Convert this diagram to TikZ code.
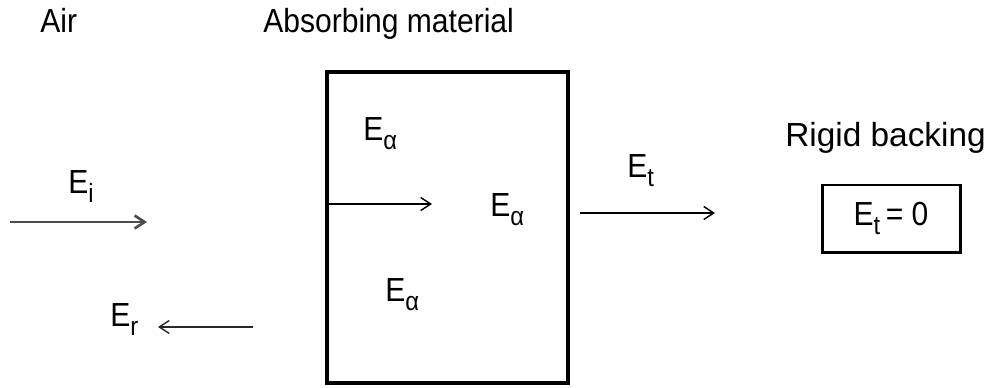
\documentclass[tikz,border=0pt]{standalone}
\usepackage{fontspec}
\setmainfont{Liberation Sans}[FakeStretch=0.9]
\newfontfamily\widefont{Liberation Sans}
\usetikzlibrary{arrows.meta}
% field symbol with a lowered index
\newcommand\fieldsym[1]{E\raisebox{-5.5pt}{\fontsize{15}{15}\selectfont #1}}

\begin{document}
\begin{tikzpicture}[x=0.2mm,y=-0.2mm,
    >={Straight Barb[length=2mm,width=2.6mm]},
    lbl/.style={inner sep=0pt,anchor=base west,font=\fontsize{19}{22}\selectfont},
    wave/.style={->,line width=0.8pt}]
  \useasboundingbox (0,0) rectangle (990,387);

  % headings
  \node[lbl] (air) at (40,32) {Air};
  \node[lbl] (absorb) at (263,32) {Absorbing material};
  \node[lbl,font=\widefont\fontsize{19}{22}\selectfont] (rigid) at (785,146) {Rigid backing};

  % slab of absorbing material
  \node[draw,line width=1.8pt,minimum width=48.2mm,minimum height=62.2mm,inner sep=0pt] (slab) at (447.5,227.5) {};
  \node[lbl] (ea1) at (363,140) {\fieldsym{α}};
  \node[lbl] (ea2) at (490,216) {\fieldsym{α}};
  \node[lbl] (ea3) at (385,301) {\fieldsym{α}};

  % backing
  \node[draw,line width=1.7pt,minimum width=27.6mm,minimum height=13.4mm,inner sep=0pt,
        font=\fontsize{19}{22}\selectfont] (back) at (891,218.5) {\fieldsym{t}\,= 0};

  % incident, reflected, transmitted
  \node[lbl] (ei) at (68,193) {\fieldsym{i}};
  \node[lbl] (er) at (110,326) {\fieldsym{r}};
  \node[lbl] (et) at (627,177) {\fieldsym{t}};

  \coordinate (ei-a) at (10,222);
  \coordinate (ei-b) at (147,222);
  \coordinate (er-a) at (253,327);
  \coordinate (er-b) at (158,327);
  \coordinate (in-b) at (432,204);
  \coordinate (et-a) at (580,213);
  \coordinate (et-b) at (715,213);

  \draw[wave,line width=1.5pt,black!70] (ei-a) -- (ei-b);
  \draw[wave,black!85] (er-a) -- (er-b);
  \draw[wave] (in-b -| slab.west) -- (in-b);
  \draw[wave] (et-a) -- (et-b);
\end{tikzpicture}
\end{document}
